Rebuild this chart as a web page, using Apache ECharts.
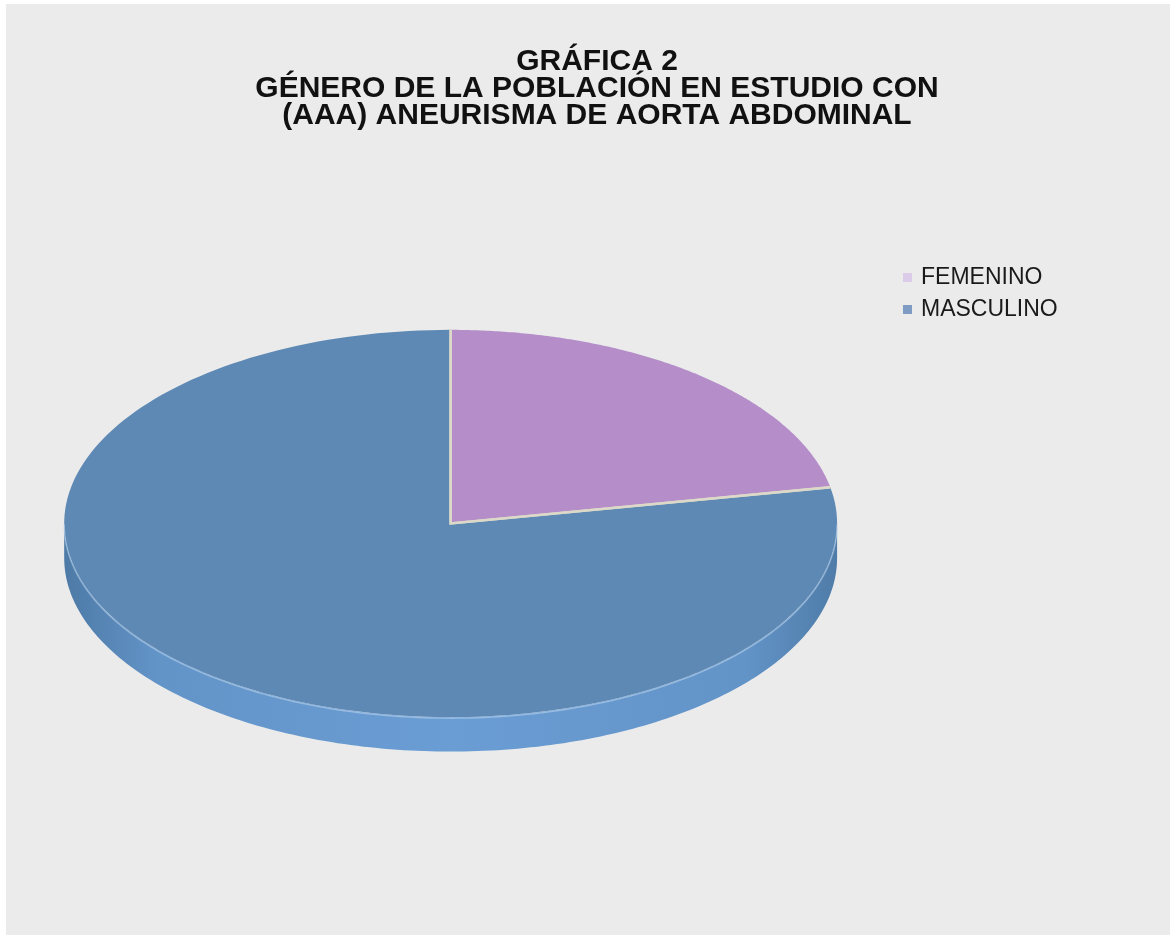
<!DOCTYPE html>
<html>
<head>
<meta charset="utf-8">
<style>
  html, body { margin: 0; padding: 0; background: #ffffff; }
  #chart { position: absolute; left: 6px; top: 4px; width: 1164px; height: 931px; }
</style>
<script src="https://cdn.jsdelivr.net/npm/echarts@6/dist/echarts.min.js"></script>
</head>
<body>
<div id="chart"></div>
<script>
// Gender of the study population with abdominal aortic aneurysm (%)
const categories = ['FEMENINO', 'MASCULINO'];
const values = [22, 78];
const topColors = ['#b48dc9', '#5e89b4'];
const sideColors = ['#a07cb8', '#6a9dd4'];
const legendColors = ['#dccbe8', '#7e9cc3'];

const total = values.reduce((a, b) => a + b, 0);

const chart = echarts.init(document.getElementById('chart'));

// Tilted pie geometry, relative to the chart size
function layout(api) {
  const w = api.getWidth(), h = api.getHeight();
  return {
    cx: w * 0.382, cy: h * 0.558,
    rx: w * 0.332, ry: h * 0.208,
    depth: h * 0.037
  };
}

function ellipsePoint(g, a, dy) {
  return [g.cx + g.rx * Math.cos(a), g.cy + g.ry * Math.sin(a) + (dy || 0)];
}

// Draws slice i (side wall, top face, separators) from its share of the total
function makeRenderer(i) {
  return function (params, api) {
    const g = layout(api);
    let before = 0;
    for (let k = 0; k < i; k++) before += values[k];
    const start = -Math.PI / 2 + (before / total) * Math.PI * 2;
    const end = start + (api.value(0) / total) * Math.PI * 2;
    const steps = 180;
    const children = [];

    // Visible side wall: the part of the slice facing the viewer
    const ranges = [[Math.max(start, 0), Math.min(end, Math.PI)],
                    [Math.max(start, 2 * Math.PI), Math.min(end, 3 * Math.PI)]];
    ranges.forEach(([a0, a1]) => {
      if (a1 <= a0) return;
      const pts = [];
      for (let s = 0; s <= steps; s++) pts.push(ellipsePoint(g, a0 + (a1 - a0) * s / steps, 0));
      for (let s = steps; s >= 0; s--) pts.push(ellipsePoint(g, a0 + (a1 - a0) * s / steps, g.depth));
      children.push({
        type: 'polygon', z2: 1,
        shape: { points: pts },
        style: {
          fill: new echarts.graphic.LinearGradient(0, 0, 1, 0, [
            { offset: 0, color: '#4d7aa6' },
            { offset: 0.12, color: '#6394c8' },
            { offset: 0.5, color: sideColors[i] },
            { offset: 0.88, color: '#6394c8' },
            { offset: 1, color: '#4f7ca8' }
          ]),
          stroke: null
        }
      });
      // thin light rim where the top face meets the side
      const rim = [];
      for (let s = 0; s <= steps; s++) rim.push(ellipsePoint(g, a0 + (a1 - a0) * s / steps, 1));
      children.push({
        type: 'polyline', z2: 3,
        shape: { points: rim },
        style: { stroke: 'rgba(190,215,240,0.55)', lineWidth: 1.5, fill: null }
      });
    });

    // Top face
    const top = [[g.cx, g.cy]];
    for (let s = 0; s <= steps; s++) top.push(ellipsePoint(g, start + (end - start) * s / steps, 0));
    children.push({
      type: 'polygon', z2: 2,
      shape: { points: top },
      style: { fill: topColors[i], stroke: null }
    });
    // Slice separators along the radii
    children.push({
      type: 'polyline', z2: 4,
      shape: { points: [ellipsePoint(g, start, 0), [g.cx, g.cy], ellipsePoint(g, end, 0)] },
      style: { stroke: '#dcd9c8', lineWidth: 2.5, fill: null }
    });

    return { type: 'group', children: children };
  };
}

chart.setOption({
  backgroundColor: '#ebebeb',
  animation: false,
  title: {
    text: 'GRÁFICA 2\nGÉNERO DE LA POBLACIÓN EN ESTUDIO CON\n(AAA) ANEURISMA DE AORTA ABDOMINAL',
    left: 586,
    top: 39,
    textAlign: 'center',
    textStyle: {
      fontFamily: 'Liberation Sans, Arial, sans-serif',
      fontWeight: 'bold',
      fontSize: 30,
      lineHeight: 27,
      color: '#111111'
    }
  },
  legend: {
    orient: 'vertical',
    left: 892,
    top: 257,
    itemWidth: 9,
    itemHeight: 9,
    itemGap: 9,
    icon: 'rect',
    data: categories,
    textStyle: {
      fontFamily: 'Liberation Sans, Arial, sans-serif',
      fontSize: 23,
      color: '#1a1a1a',
      padding: [0, 0, 0, 4]
    }
  },
  series: categories.map((c, i) => ({
    name: c,
    type: 'custom',
    coordinateSystem: 'none',
    renderItem: makeRenderer(i),
    itemStyle: { color: legendColors[i] },
    data: [[values[i]]]
  }))
});
</script>
</body>
</html>
